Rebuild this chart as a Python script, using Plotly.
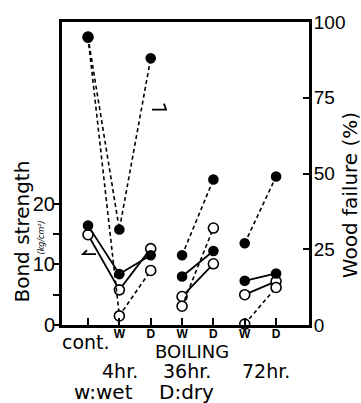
import plotly.graph_objects as go

# x positions: control, then wet/dry after each boiling period
positions = [0, 1, 2, 3, 4, 5, 6]
tick_labels = ["cont.", "W", "D", "W", "D", "W", "D"]
# index groups joined by lines: control + 4hr, 36hr, 72hr
segments = [[0, 1, 2], [3, 4], [5, 6]]

# bond strength (kg/cm2), left axis
bond_filled = [16.4, 8.4, 11.5, 8.0, 12.2, 7.3, 8.5]
bond_open = [14.9, 5.8, 12.6, 4.7, 10.1, 5.0, 7.2]
# wood failure (%), right axis
wf_filled = [95, 31.5, 88, 23, 48, 27, 49]
wf_open = [95, 3, 18, 6.2, 32, 0.3, 12.4]

groups = ["4hr.", "36hr.", "72hr."]
group_x = [120, 187, 266]  # pixel centres under the axis

TEXT_FONT = "DejaVu Sans"
NUM_FONT = "Liberation Sans"
W, H = 361, 403
L, R, T, B = 62, 52, 17, 78
PW, PH = W - L - R, H - T - B


def px(xp):
    return (xp - L) / PW


def py(yp):
    return (H - B - yp) / PH


fig = go.Figure()


def add_series(values, filled, dashed, axis):
    xs, ys = [], []
    for seg in segments:
        for i in seg:
            xs.append(positions[i])
            ys.append(values[i])
        xs.append(None)
        ys.append(None)
    fig.add_trace(go.Scatter(
        x=xs, y=ys, mode="lines+markers", yaxis=axis, cliponaxis=False,
        line=dict(color="black", width=1.6 if dashed else 1.8,
                  dash="4px,3px" if dashed else "solid"),
        marker=dict(symbol="circle", size=9 if filled else 10,
                    color="black" if filled else "white",
                    line=dict(color="black", width=1.6)),
        hoverinfo="skip"))


add_series(wf_open, False, True, "y2")
add_series(wf_filled, True, True, "y2")
add_series(bond_open, False, False, "y")
add_series(bond_filled, True, False, "y")

# the control label is set larger, below the axis; W/D sit on the axis ticks
ticktext = ["" if t.startswith("cont") else f"<b>{t}</b>" for t in tick_labels]

fig.update_layout(
    width=W, height=H,
    margin=dict(l=L, r=R, t=T, b=B),
    paper_bgcolor="white", plot_bgcolor="white",
    showlegend=False,
    font=dict(family=TEXT_FONT, size=19, color="black"),
    xaxis=dict(range=[-0.83, 7.05], tickvals=positions, ticktext=ticktext,
               tickfont=dict(family=NUM_FONT, size=12),
               ticks="inside", ticklen=7, tickwidth=2, tickcolor="black",
               ticklabelstandoff=-4,
               showline=True, linewidth=2.5, linecolor="black", mirror=True,
               showgrid=False, zeroline=False),
    yaxis=dict(range=[0, 50], tickvals=[0, 5, 10, 15, 20],
               ticktext=["0", "", "10", "", "20"],
               tickfont=dict(family=NUM_FONT, size=20),
               ticks="outside", ticklen=6, tickwidth=2, tickcolor="black",
               ticklabelstandoff=-6,
               showline=True, linewidth=3, linecolor="black",
               showgrid=False, zeroline=False),
    yaxis2=dict(range=[0, 100], overlaying="y", side="right",
                tickvals=[0, 25, 50, 75, 100],
                ticktext=["0", "25", "50", "75", "100"],
                tickfont=dict(family=NUM_FONT, size=19),
                ticks="inside", ticklen=6, tickwidth=2, tickcolor="black",
                ticklabelstandoff=-2,
                showline=True, linewidth=3, linecolor="black",
                showgrid=False, zeroline=False),
)

ann = []
ann.append(dict(text=tick_labels[0], x=px(86), y=py(342), font=dict(size=19)))
ann.append(dict(text="Bond strength", x=px(22), y=py(230), textangle=-90,
                font=dict(size=20)))
ann.append(dict(text="<i>(kg/cm²)</i>", x=px(41), y=py(236), textangle=-90,
                font=dict(size=8)))
ann.append(dict(text="Wood failure (%)", x=px(350), y=py(193), textangle=-90,
                font=dict(size=20)))
ann.append(dict(text="BOILING", x=px(192), y=py(352), font=dict(size=18)))
for g, gx in zip(groups, group_x):
    ann.append(dict(text=g, x=px(gx), y=py(372), font=dict(size=19)))
ann.append(dict(text="w:wet", x=px(103), y=py(393), font=dict(size=20)))
ann.append(dict(text="D:dry", x=px(186), y=py(393), font=dict(size=20)))
for a in ann:
    a.update(xref="paper", yref="paper", showarrow=False,
             xanchor="center", yanchor="middle")
fig.update_layout(annotations=ann)

# small hooks pointing each line style to its axis
hook = dict(type="path", xref="paper", yref="paper",
            line=dict(color="black", width=1.8))
fig.add_shape(path=f"M {px(87)},{py(249)} L {px(83)},{py(253)} L {px(96)},{py(253)}", **hook)
fig.add_shape(path=f"M {px(152)},{py(106)} L {px(166)},{py(106)} L {px(164)},{py(100)}", **hook)

fig.write_html("out.html")
